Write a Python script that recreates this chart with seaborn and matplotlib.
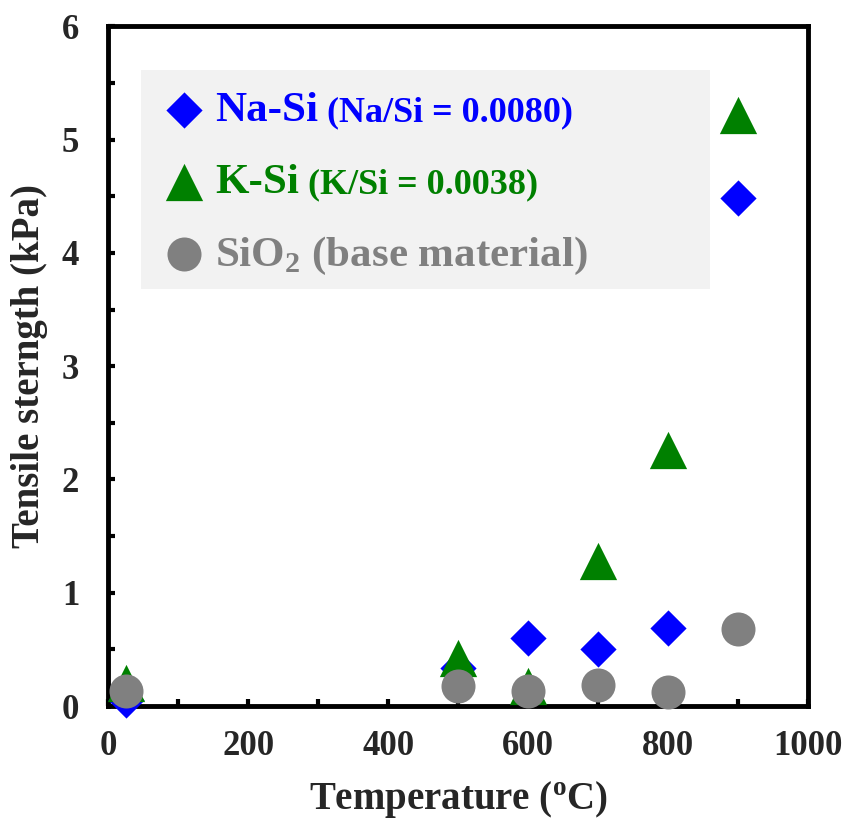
import matplotlib.pyplot as plt
import seaborn as sns
import pandas as pd
from matplotlib.patches import Rectangle
from matplotlib.ticker import MultipleLocator

sns.set_style('ticks')
plt.rcParams['font.family'] = ['Liberation Serif', 'DejaVu Serif']
plt.rcParams['font.weight'] = 'bold'
plt.rcParams['mathtext.fontset'] = 'custom'
plt.rcParams['mathtext.rm'] = 'Liberation Serif:bold'
plt.rcParams['mathtext.bf'] = 'Liberation Serif:bold'

# data
temperature = [25, 500, 600, 700, 800, 900]
na_si = [0.05, 0.34, 0.60, 0.50, 0.69, 4.48]
k_si = [0.20, 0.42, 0.18, 1.28, 2.26, 5.22]
sio2 = [0.13, 0.18, 0.13, 0.19, 0.12, 0.68]

series_labels = ['Na-Si', 'K-Si', 'SiO$_{\\mathregular{2}}$ (base material)']
ratio_notes = ['(Na/Si = 0.0080)', '(K/Si = 0.0038)', None]
colors = ['#0000ff', '#008000', '#808080']
markers = ['D', '^', 'o']
sizes = [340, 720, 600]

df = pd.DataFrame({'temperature': temperature, 'Na-Si': na_si, 'K-Si': k_si, 'SiO2': sio2})

fig = plt.figure(figsize=(8.47, 8.21), dpi=100)
ax = fig.add_axes([0.128, 0.140, 0.826, 0.828])

for i, col in enumerate(['Na-Si', 'K-Si', 'SiO2']):
    sns.scatterplot(data=df, x='temperature', y=col, ax=ax, marker=markers[i],
                    color=colors[i], s=sizes[i], linewidth=0, label=series_labels[i],
                    zorder=3 + i, clip_on=False)

ax.set_xlim(0, 1000)
ax.set_ylim(0, 6)
ax.xaxis.set_major_locator(MultipleLocator(200))
ax.xaxis.set_minor_locator(MultipleLocator(100))
ax.yaxis.set_major_locator(MultipleLocator(1))
ax.yaxis.set_minor_locator(MultipleLocator(0.5))
ax.tick_params(which='both', direction='in', length=5, width=3, color='black')
ax.tick_params(axis='x', labelsize=25, pad=17)
ax.tick_params(axis='y', labelsize=25, pad=21)
for lab in ax.get_xticklabels() + ax.get_yticklabels():
    lab.set_fontweight('bold')
for sp in ax.spines.values():
    sp.set_linewidth(3.5)
    sp.set_color('black')

ax.set_xlabel('Temperature ($^{\\mathregular{o}}$C)', fontsize=28, fontweight='bold', labelpad=12)
ax.set_ylabel('Tensile sterngth (kPa)', fontsize=28, fontweight='bold', labelpad=10)

# legend background
ax.add_patch(Rectangle((0.046, 0.614), 0.814, 0.321, transform=ax.transAxes,
                       facecolor='#f2f2f2', edgecolor='none', zorder=0.5))

handles, labels = ax.get_legend_handles_labels()
leg = ax.legend(handles, labels, loc='upper left', bbox_to_anchor=(0.0775, 0.905),
                frameon=False, fontsize=31, borderpad=0, borderaxespad=0,
                handlelength=1.0, handletextpad=0.22, labelspacing=0.76)
for txt, c in zip(leg.get_texts(), colors):
    txt.set_color(c)
    txt.set_fontweight('bold')

# ratio notes go right after the legend labels, in a smaller font
fig.canvas.draw()
inv = ax.transAxes.inverted()
for txt, note, c in zip(leg.get_texts(), ratio_notes, colors):
    if note:
        bb = txt.get_window_extent()
        x0, y0 = inv.transform((bb.x1 + 9, bb.y0 + 1))
        ax.text(x0, y0, note, transform=ax.transAxes, va='bottom', ha='left',
                fontsize=26, fontweight='bold', color=c, zorder=6)

fig.savefig('out.png', dpi=100)
